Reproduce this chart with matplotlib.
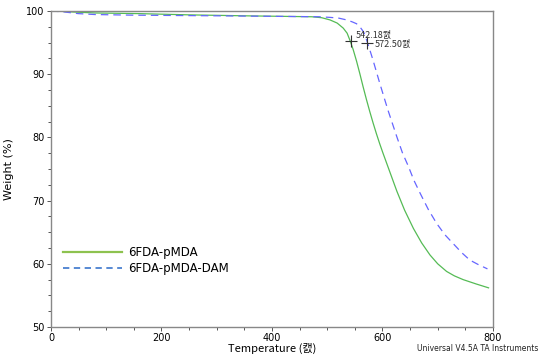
import matplotlib.pyplot as plt
from matplotlib.lines import Line2D
from matplotlib.ticker import MultipleLocator

# --- data ---
temp_a = [0, 20, 40, 80, 157, 250, 350, 472, 490, 505, 518, 529, 536, 541, 547,
          553, 559, 565, 571, 577, 583, 589, 595, 601, 611, 626, 640, 656, 671,
          686, 700, 716, 730, 746, 770, 792]
weight_a = [100.0, 99.95, 99.85, 99.7, 99.6, 99.4, 99.25, 99.1, 98.95, 98.6, 98.1,
            97.3, 96.5, 95.4, 93.9, 92.1, 90.1, 88.0, 86.0, 84.1, 82.3, 80.6, 79.0,
            77.5, 75.1, 71.5, 68.5, 65.6, 63.3, 61.4, 60.0, 58.8, 58.1, 57.5, 56.8, 56.2]

temp_b = [0, 20, 49, 80, 150, 300, 485, 505, 520, 535, 545, 553, 560, 565, 568,
          572.5, 578, 583, 589, 595, 603, 610, 618, 626, 636, 647, 657, 668, 683,
          698, 713, 728, 743, 758, 773, 790]
weight_b = [100.0, 99.9, 99.6, 99.45, 99.35, 99.25, 99.1, 99.0, 98.9, 98.6, 98.3,
            98.0, 97.4, 96.8, 96.3, 95.1, 93.6, 92.2, 90.4, 88.6, 86.3, 84.3, 82.2,
            80.1, 77.6, 75.4, 73.2, 71.2, 68.6, 66.4, 64.6, 63.2, 61.8, 60.6, 59.9, 59.2]

onset_t = [542.18, 572.50]
onset_w = [95.3, 95.0]
onset_lbl = ['542.18캜', '572.50캜']

series_names = ['6FDA-pMDA', '6FDA-pMDA-DAM']

# --- plot ---
fig = plt.figure(figsize=(5.39, 3.57), dpi=100)
ax = fig.add_axes([0.0946, 0.084, 0.82, 0.885])

ax.plot(temp_a, weight_a, color='#55bb55', lw=0.9)
ax.plot(temp_b, weight_b, color='#6666ff', lw=0.9, ls=(0, (6, 4)))

ax.plot(onset_t, onset_w, '+', color='#333333', ms=8, mew=0.8)
ax.text(onset_t[0] + 10, onset_w[0] + 0.5, onset_lbl[0], fontsize=6.5,
        family=['Noto Sans CJK KR', 'DejaVu Sans'], color='#333333')
ax.text(onset_t[1] + 13, onset_w[1] - 0.6, onset_lbl[1], fontsize=6.5,
        family=['Noto Sans CJK KR', 'DejaVu Sans'], color='#333333')

ax.set_xlim(0, 800)
ax.set_ylim(50, 100)
ax.xaxis.set_major_locator(MultipleLocator(200))
ax.xaxis.set_minor_locator(MultipleLocator(50))
ax.yaxis.set_major_locator(MultipleLocator(10))
ax.yaxis.set_minor_locator(MultipleLocator(2.5))
ax.tick_params(which='both', labelsize=7, color='#555555', width=0.7, pad=1.5)
ax.tick_params(which='major', length=3)
ax.tick_params(which='minor', length=2)
for s in ax.spines.values():
    s.set_color('#888888')
    s.set_linewidth(1)

ax.set_xlabel('Temperature (캜)', fontsize=8, family=['Noto Sans CJK KR', 'DejaVu Sans'],
              labelpad=0)
ax.set_ylabel('Weight (%)', fontsize=8, labelpad=9)

handles = [Line2D([], [], color='#8dc24f', lw=1.6),
           Line2D([], [], color='#4a80d0', lw=1.3, ls=(0, (3.5, 2.5)))]
ax.legend(handles, series_names, loc='lower left', bbox_to_anchor=(0.003, 0.13),
          frameon=False, fontsize=8.5, handlelength=5.0, handletextpad=0.5,
          labelspacing=0.25)

fig.text(0.998, 0.018, 'Universal V4.5A TA Instruments', fontsize=5.5, ha='right',
         color='#222222')

fig.savefig('out.png', dpi=100)
